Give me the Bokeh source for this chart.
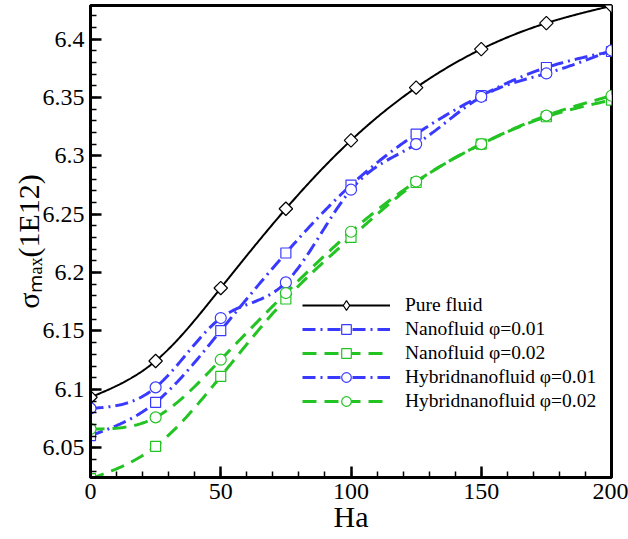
import numpy as np
from bokeh.plotting import figure
from bokeh.models import (Range1d, FixedTicker, CustomJSTickFormatter,
                          Legend, LegendItem)
from bokeh.embed import file_html
from bokeh.resources import INLINE

# ---------------- data ----------------
ha = [0, 25, 50, 75, 100, 125, 150, 175, 200]
pure_fluid = [6.0932, 6.1243, 6.1868, 6.2547, 6.3133, 6.3585, 6.3914, 6.4137, 6.4285]
nano_001 = [6.0604, 6.0889, 6.1503, 6.2168, 6.2750, 6.3187, 6.3516, 6.3757, 6.3894]
nano_002 = [6.0235, 6.0512, 6.1111, 6.1774, 6.2301, 6.2772, 6.3101, 6.3335, 6.3478]
hybrid_001 = [6.0837, 6.1017, 6.1611, 6.1916, 6.2710, 6.3101, 6.3506, 6.3706, 6.3903]
hybrid_002 = [6.0661, 6.0760, 6.1254, 6.1825, 6.2350, 6.2780, 6.3101, 6.3345, 6.3515]

series_labels = ["Pure fluid", "Nanofluid \u03c6=0.01", "Nanofluid \u03c6=0.02",
                 "Hybridnanofluid \u03c6=0.01", "Hybridnanofluid \u03c6=0.02"]
x_ticks = [0, 50, 100, 150, 200]
y_ticks = [6.05, 6.1, 6.15, 6.2, 6.25, 6.3, 6.35, 6.4]
x_title = "Ha"
y_title = "\u03c3\u2098\u2090\u2093(1E12)"

X0, X1 = 0, 200
Y0, Y1 = 6.0245, 6.4288

FL, FR, FT, FB = 90, 611, 5, 477
W, H = 628, 539


def smooth(xs, ys, n=400):
    """natural cubic spline through the data points (for drawing the curve)"""
    x = np.asarray(xs, float)
    y = np.asarray(ys, float)
    m = len(x)
    h = np.diff(x)
    A = np.zeros((m, m))
    b = np.zeros(m)
    A[0, 0] = 1
    A[-1, -1] = 1
    for i in range(1, m - 1):
        A[i, i - 1] = h[i - 1]
        A[i, i] = 2 * (h[i - 1] + h[i])
        A[i, i + 1] = h[i]
        b[i] = 6 * ((y[i + 1] - y[i]) / h[i] - (y[i] - y[i - 1]) / h[i - 1])
    M = np.linalg.solve(A, b)
    xx = np.linspace(x[0], x[-1], n)
    idx = np.clip(np.searchsorted(x, xx) - 1, 0, m - 2)
    xa = x[idx]
    xb = x[idx + 1]
    hh = xb - xa
    t0 = xb - xx
    t1 = xx - xa
    yy = (M[idx] * t0 ** 3 / (6 * hh) + M[idx + 1] * t1 ** 3 / (6 * hh)
          + (y[idx] / hh - M[idx] * hh / 6) * t0
          + (y[idx + 1] / hh - M[idx + 1] * hh / 6) * t1)
    return xx, yy


FONT = "Liberation Serif"
BLUE = "#3a3aff"
GREEN = "#22c322"

p = figure(width=W, height=H, output_backend="svg", toolbar_location=None,
           x_range=Range1d(X0, X1), y_range=Range1d(Y0, Y1),
           min_border_left=FL, min_border_right=W - FR,
           min_border_top=FT, min_border_bottom=H - FB)
p.background_fill_color = "white"
p.border_fill_color = "white"
p.grid.visible = False
p.outline_line_color = "black"
p.outline_line_width = 3

for ax in (p.xaxis[0], p.yaxis[0]):
    ax.axis_line_width = 3
    ax.axis_line_color = "black"
    ax.major_tick_in = 11
    ax.major_tick_out = 0
    ax.minor_tick_in = 6
    ax.minor_tick_out = 0
    ax.major_tick_line_width = 2.5
    ax.minor_tick_line_width = 1.5
    ax.major_label_text_font = FONT
    ax.major_label_text_font_size = "24px"
    ax.major_label_text_color = "black"
    ax.major_label_standoff = 6
    ax.axis_label_text_font = FONT
    ax.axis_label_text_font_style = "normal"
    ax.axis_label_text_color = "black"

p.xaxis.axis_label = x_title
p.xaxis.axis_label_text_font_size = "30px"
p.xaxis.axis_label_standoff = -2
p.yaxis.axis_label = y_title
p.yaxis.axis_label_text_font_size = "30px"
p.yaxis.axis_label_standoff = -5

p.xaxis.ticker = FixedTicker(ticks=x_ticks,
                             minor_ticks=[v for v in range(0, 201, 10)])
p.yaxis.ticker = FixedTicker(ticks=y_ticks,
                             minor_ticks=[round(6.02 + 0.01 * i, 2) for i in range(42)])
p.yaxis.formatter = CustomJSTickFormatter(code="return Number(tick.toFixed(2)).toString();")
p.xaxis.formatter = CustomJSTickFormatter(code="return Math.round(tick).toString();")

styles = [
    dict(data=pure_fluid, color="black", dash="solid", lw=2, marker="square", angle=np.pi / 4, size=9.5),
    dict(data=nano_001, color=BLUE, dash="13 5 2 5", lw=3, marker="square", angle=0, size=10),
    dict(data=nano_002, color=GREEN, dash="14 8", lw=3, marker="square", angle=0, size=10),
    dict(data=hybrid_001, color=BLUE, dash="13 5 2 5", lw=3, marker="circle", angle=0, size=11),
    dict(data=hybrid_002, color=GREEN, dash="14 8", lw=3, marker="circle", angle=0, size=11),
]

line_rs = []
for s in styles:
    xx, yy = smooth(ha, s["data"])
    r = p.line(xx, yy, line_color=s["color"], line_width=s["lw"], line_dash=s["dash"])
    line_rs.append(r)

items = []
for k, (s, lr, lab) in enumerate(zip(styles, line_rs, series_labels)):
    sr = p.scatter(ha, s["data"], marker=s["marker"], size=s["size"], angle=s["angle"],
                   fill_color="white", line_color=s["color"], line_width=1.2)
    if k == 0:
        # legend key for the diamond marker: a single NaN point, never drawn in the plot
        key_r = p.scatter(x=np.array([np.nan]), y=np.array([np.nan]), marker="diamond",
                          size=10, fill_color="white", line_color="black", line_width=1.2)
        items.append(LegendItem(label=lab, renderers=[lr, key_r]))
    else:
        items.append(LegendItem(label=lab, renderers=[lr, sr]))

legend = Legend(items=items, location=(208, 60), margin=0, padding=4,
                spacing=0, glyph_width=88, glyph_height=24, label_height=24,
                label_standoff=15, label_text_font=FONT, label_text_font_size="19.5px",
                label_text_color="black", background_fill_color="white",
                background_fill_alpha=1.0, border_line_alpha=0)
p.add_layout(legend, "center")

open("out.html", "w").write(file_html(p, INLINE))
